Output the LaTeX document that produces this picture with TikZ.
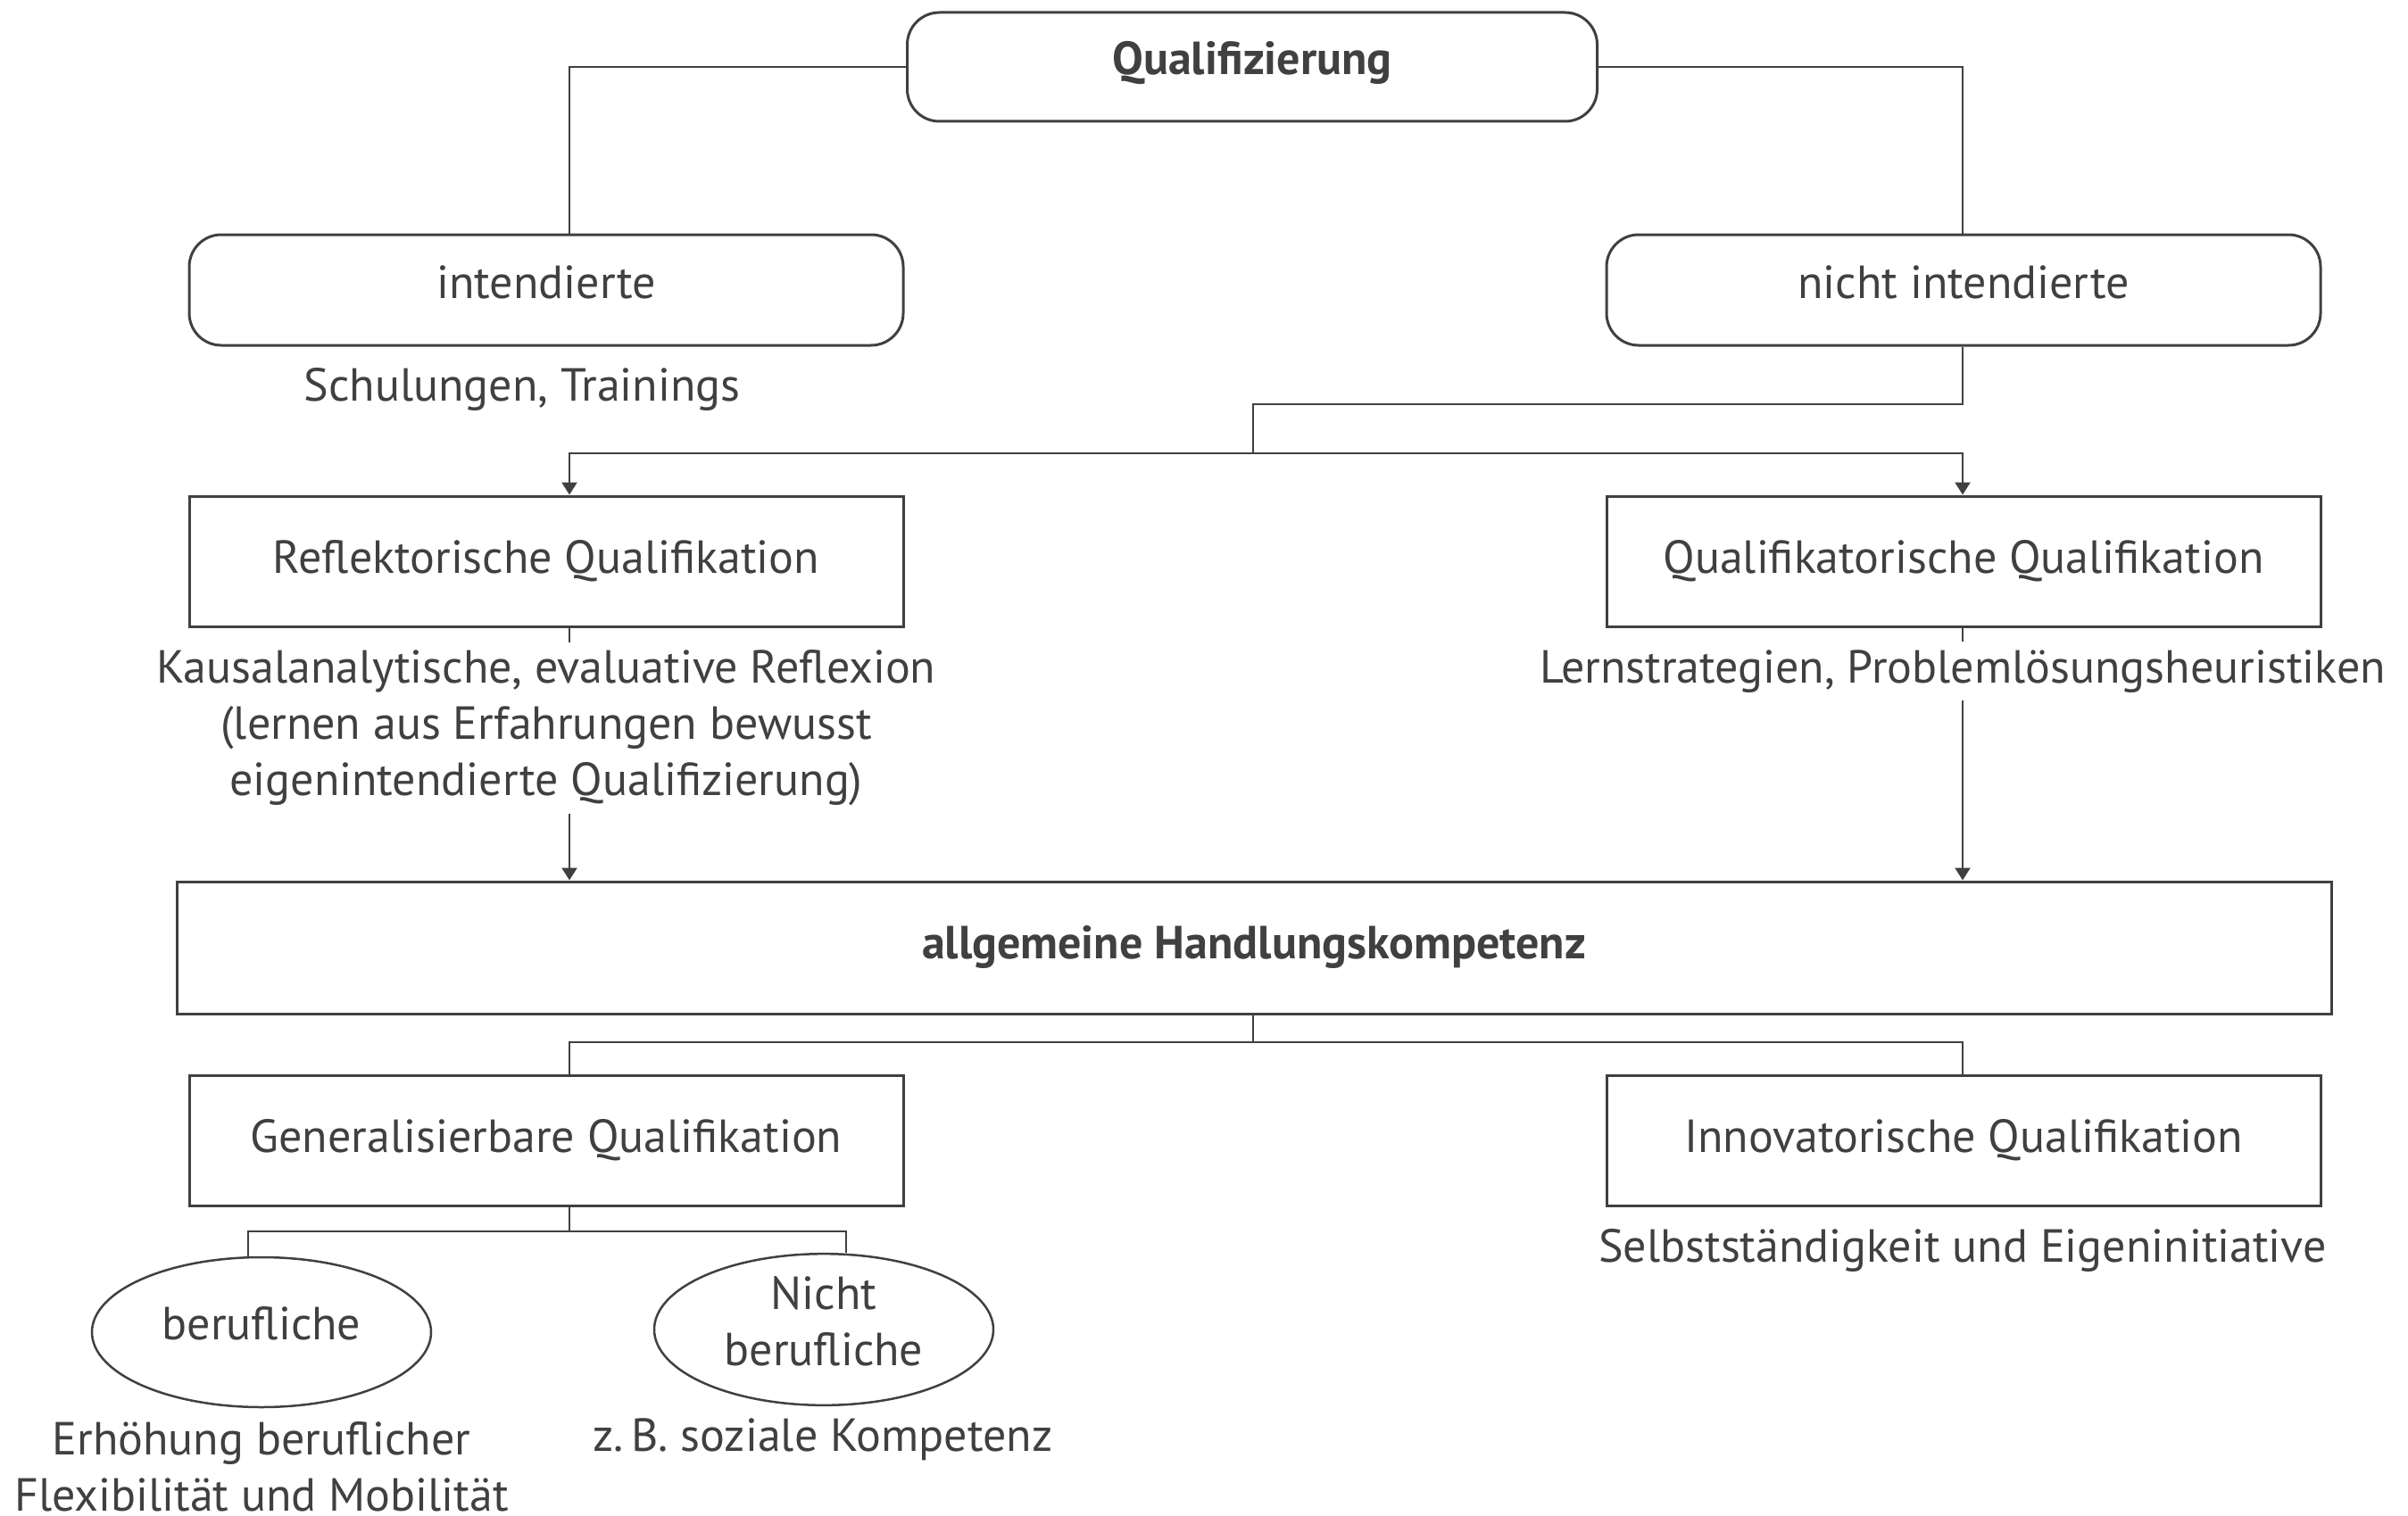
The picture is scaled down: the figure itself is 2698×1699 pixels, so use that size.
\documentclass[tikz,border=0pt]{standalone}
\usepackage{fontspec}
\setmainfont{PT Sans}
\usetikzlibrary{shapes.geometric,arrows.meta,calc}
\definecolor{ink}{HTML}{404040}
\newcommand{\bodyfont}{\fontsize{52}{63}\selectfont}
\begin{document}
\begin{tikzpicture}[x=1pt,y=-1pt,
  every node/.style={text=ink, font=\bodyfont},
  roundbox/.style={draw=ink, line width=3pt, rounded corners=36pt,
    minimum width=800pt, minimum height=124pt, inner sep=0pt,
    text height=38pt, text depth=20pt},
  plainbox/.style={draw=ink, line width=3pt,
    minimum width=800pt, minimum height=146pt, inner sep=0pt},
  oval/.style={draw=ink, line width=2.5pt, ellipse, align=center,
    minimum width=380pt, minimum height=168pt, inner sep=0pt,
    text depth=20pt},
  note/.style={align=center, inner xsep=0pt, inner ysep=9pt, fill=white},
  strong/.style={font=\bodyfont\bfseries},
  link/.style={draw=ink, line width=2.5pt},
  arrowlink/.style={link, -{Triangle[length=14pt,width=17pt]}},
]
\useasboundingbox (0,0) rectangle (2698,1699);

% column positions of the vertical connectors
\coordinate (lx) at (638,0);
\coordinate (rx) at (2199,0);
\coordinate (e1x) at (278,0);
\coordinate (e2x) at (948,0);

% boxes
\node[roundbox, strong, minimum width=773pt, minimum height=122pt] (qual) at (1403,75) {Qualifizierung};
\node[roundbox] (int) at (612,325) {intendierte};
\node[roundbox] (nint) at (2200,325) {nicht intendierte};
\node[plainbox] (refl) at (612,629) {Reflektorische Qualifikation};
\node[plainbox] (qk) at (2200,629) {Qualifikatorische Qualifikation};
\node[plainbox, strong, minimum width=2414pt, minimum height=148pt] (allg) at (1405,1062) {allgemeine Handlungskompetenz};
\node[plainbox] (gen) at (612,1278) {Generalisierbare Qualifikation};
\node[plainbox] (inno) at (2200,1278) {Innovatorische Qualifikation};
\node[oval] (beruf) at (293,1493) {berufliche};
\node[oval] (nberuf) at (923,1490) {Nicht\\berufliche};

% descriptions
\node[note, anchor=base] (intx) at (585,449) {Schulungen, Trainings};
\node[note] (reflx) at (612,816) {Kausalanalytische, evaluative Reflexion\\(lernen aus Erfahrungen bewusst\\eigenintendierte Qualifizierung)};
\node[note, anchor=base] (qkx) at (2199,765) {Lernstrategien, Problemlösungsheuristiken};
\node[note, anchor=base] (innox) at (2199,1414) {Selbstständigkeit und Eigeninitiative};
\node[align=center, inner sep=0pt] (berufx) at (293,1644) {Erhöhung beruflicher\\Flexibilität und Mobilität};
\node[note, anchor=base] (nberufx) at (922,1626) {z.\,B. soziale Kompetenz};

% junction points
\coordinate (j1) at (1404,453);
\coordinate (j2) at (1404,508);
\coordinate (j3) at (1404,1168);
\coordinate (j4) at (638,1380);

% connectors
\draw[link] (qual.west) -| (int.north -| lx);
\draw[link] (qual.east) -| (nint.north -| rx);
\draw[link] (nint.south -| rx) |- (j1) -- (j2);
\draw[arrowlink] (j2) -| (refl.north -| lx);
\draw[arrowlink] (j2) -| (qk.north -| rx);
\draw[link] (refl.south -| lx) -- (reflx.north -| lx);
\draw[arrowlink] (reflx.south -| lx) -- (allg.north -| lx);
\draw[link] (qk.south -| rx) -- (qkx.north -| rx);
\draw[arrowlink] (qkx.south -| rx) -- (allg.north -| rx);
\draw[link] (allg.south -| j3) -- (j3);
\draw[link] (j3) -| (gen.north -| lx);
\draw[link] (j3) -| (inno.north -| rx);
\draw[link] (gen.south -| lx) -- (j4);
\draw[link] (j4) -| (beruf.north -| e1x);
\draw[link] (j4) -| (nberuf.north -| e2x);
\end{tikzpicture}
\end{document}
